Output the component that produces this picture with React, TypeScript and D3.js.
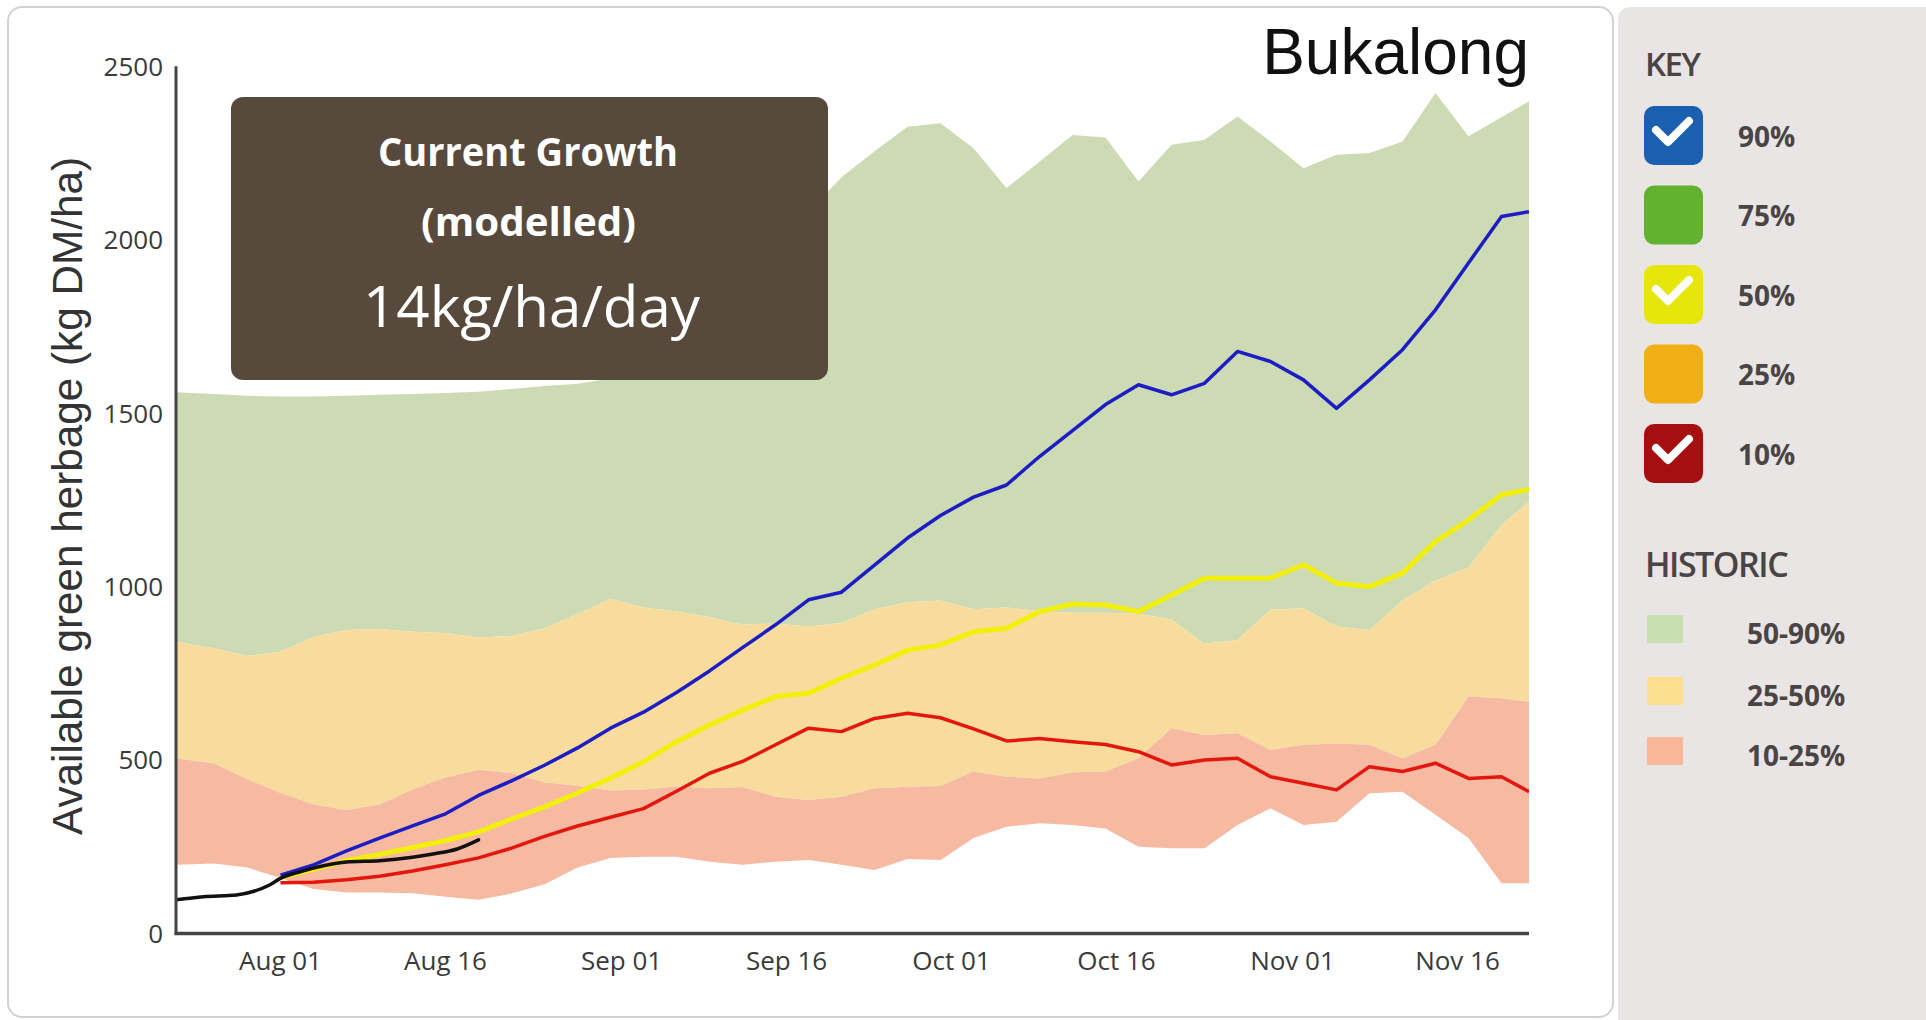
import React from "react";
import * as d3 from "d3";

// ---------- DATA ----------
const histDates = [
  "2019-07-22T12:00Z", "2019-07-26", "2019-07-29",
  "2019-08-01", "2019-08-04", "2019-08-07", "2019-08-10", "2019-08-13", "2019-08-16", "2019-08-19", "2019-08-22", "2019-08-25", "2019-08-28", "2019-08-31",
  "2019-09-03", "2019-09-06", "2019-09-09", "2019-09-12", "2019-09-15", "2019-09-18", "2019-09-21", "2019-09-24", "2019-09-27", "2019-09-30",
  "2019-10-03", "2019-10-06", "2019-10-09", "2019-10-12", "2019-10-15", "2019-10-18", "2019-10-21", "2019-10-24", "2019-10-27", "2019-10-30",
  "2019-11-02", "2019-11-05", "2019-11-08", "2019-11-11", "2019-11-14", "2019-11-17", "2019-11-20", "2019-11-22T12:00Z",
];

// historic percentiles
const hist90 = [1560, 1555, 1550, 1548, 1548, 1550, 1553, 1555, 1558, 1562, 1570, 1578, 1585, 1600, 1650, 1730, 1820, 1910, 1990, 2080, 2180, 2255, 2326, 2336, 2264, 2149, 2225, 2302, 2295, 2168, 2274, 2288, 2355, 2283, 2206, 2245, 2250, 2283, 2423, 2298, 2353, 2399];
const hist50 = [840, 822, 800, 812, 855, 875, 878, 870, 866, 853, 858, 880, 920, 965, 940, 928, 912, 890, 894, 885, 895, 935, 955, 960, 935, 940, 930, 925, 925, 922, 905, 835, 846, 933, 938, 885, 875, 960, 1018, 1055, 1178, 1245];
const hist25 = [505, 490, 445, 405, 372, 356, 372, 415, 450, 472, 462, 436, 426, 412, 415, 424, 419, 422, 394, 385, 394, 419, 423, 425, 467, 452, 447, 465, 467, 505, 592, 572, 577, 529, 544, 548, 544, 505, 544, 683, 678, 668];
const hist10 = [198, 202, 190, 160, 128, 118, 118, 116, 106, 97, 115, 142, 190, 218, 221, 221, 207, 198, 207, 212, 198, 183, 215, 212, 275, 308, 318, 313, 303, 250, 246, 246, 313, 361, 313, 322, 404, 409, 342, 275, 145, 145];

// projections (from Aug 01)
const projDates = histDates.slice(3);
const proj90 = [168, 198, 238, 275, 310, 345, 398, 440, 485, 535, 592, 638, 695, 757, 824, 890, 962, 984, 1062, 1140, 1205, 1258, 1293, 1375, 1450, 1525, 1582, 1553, 1586, 1678, 1649, 1596, 1514, 1596, 1683, 1798, 1933, 2067, 2081];
const proj50 = [162, 185, 210, 228, 248, 268, 293, 330, 365, 405, 448, 495, 553, 601, 644, 683, 693, 736, 774, 817, 832, 870, 880, 928, 950, 947, 928, 976, 1024, 1024, 1024, 1063, 1010, 1000, 1039, 1130, 1192, 1265, 1280];
const proj10 = [146, 148, 155, 165, 180, 198, 218, 246, 280, 310, 335, 360, 410, 462, 496, 544, 592, 582, 620, 635, 622, 590, 555, 562, 553, 545, 524, 486, 500, 505, 452, 433, 414, 481, 467, 491, 447, 452, 409];

// actual (modelled to date)
const actualDates = ["2019-07-22T12:00Z", "2019-07-25", "2019-07-28", "2019-07-29T12:00Z", "2019-07-31", "2019-08-01", "2019-08-03", "2019-08-05", "2019-08-07", "2019-08-10", "2019-08-13", "2019-08-15", "2019-08-17", "2019-08-19"];
const actualVals = [97, 106, 111, 121, 140, 159, 180, 196, 206, 210, 220, 230, 243, 270];

const xTickDates = ["2019-08-01", "2019-08-16", "2019-09-01", "2019-09-16", "2019-10-01", "2019-10-16", "2019-11-01", "2019-11-16"];
const yTicks = [0, 500, 1000, 1500, 2000, 2500];

const keyLabels = ["90%", "75%", "50%", "25%", "10%"];
const keyColors = ["#1b5fb0", "#62b22f", "#e6e60a", "#f0b015", "#a50f0f"];
const keyChecked = [true, false, true, false, true];

const histLabels = ["50-90%", "25-50%", "10-25%"];
const histSwatch = ["#c7dfb0", "#fde08e", "#f9b89a"];

const stationName = "Bukalong";
const growthValue = "14kg/ha/day";

// ---------- LAYOUT ----------
const W = 1926, H = 1020;
const X0 = 176, X1 = 1529, Y0 = 933.5, Y1 = 66.3;

const x = d3.scaleUtc().domain([new Date("2019-07-22T12:00Z"), new Date("2019-11-22T12:00Z")]).range([X0, X1]);
const y = d3.scaleLinear().domain([0, 2500]).range([Y0, Y1]);
const fmt = d3.utcFormat("%b %d");

function App() {
  const hd = histDates.map((d) => new Date(d.length === 10 ? d + "T00:00Z" : d));
  const pd = projDates.map((d) => new Date(d.length === 10 ? d + "T00:00Z" : d));
  const ad = actualDates.map((d) => new Date(d.length === 10 ? d + "T00:00Z" : d));

  const band = (lo: number[], hi: number[]) =>
    d3.area<number>()
      .x((i) => x(hd[i]))
      .y0((i) => y(lo[i]))
      .y1((i) => y(hi[i]))(d3.range(hd.length)) || "";
  const projLine = (vals: number[]) =>
    d3.line<number>().x((i) => x(pd[i])).y((i) => y(vals[i]))(d3.range(pd.length)) || "";
  const actualLine =
    d3.line<number>().x((i) => x(ad[i])).y((i) => y(actualVals[i])).curve(d3.curveMonotoneX)(d3.range(ad.length)) || "";

  const tickFont = "'Open Sans', 'Noto Sans', sans-serif";

  return (
    <svg width={W} height={H} style={{ position: "absolute", left: 0, top: 0, display: "block" }}>
      <rect x={0} y={0} width={W} height={H} fill="#ffffff" />
      {/* chart panel */}
      <rect x={8} y={7} width={1605} height={1010} rx={14} fill="#ffffff" stroke="#d2d2d2" strokeWidth={2} />
      {/* legend panel */}
      <path d={`M1618,${H} L1618,21 Q1618,7 1632,7 L${W},7 L${W},${H} Z`} fill="#e8e5e4" />

      <defs>
        <clipPath id="plot">
          <rect x={X0} y={0} width={X1 - X0} height={Y0} />
        </clipPath>
      </defs>

      <g clipPath="url(#plot)">
        <path d={band(hist50, hist90)} fill="#cddbb4" />
        <path d={band(hist25, hist50)} fill="#f8dc9e" />
        <path d={band(hist10, hist25)} fill="#f6b9a1" />
        <path d={projLine(proj10)} fill="none" stroke="#e3170d" strokeWidth={3.5} strokeLinejoin="round" />
        <path d={projLine(proj50)} fill="none" stroke="#f3ef0c" strokeWidth={5} strokeLinejoin="round" />
        <path d={projLine(proj90)} fill="none" stroke="#1d1dc4" strokeWidth={3.5} strokeLinejoin="round" />
        <path d={actualLine} fill="none" stroke="#111111" strokeWidth={3.5} strokeLinecap="round" />
      </g>

      {/* axes */}
      <line x1={X0} x2={X0} y1={Y1} y2={Y0 + 1.5} stroke="#444" strokeWidth={3} />
      <line x1={X0 - 1.5} x2={X1} y1={Y0} y2={Y0} stroke="#444" strokeWidth={3.5} />
      {yTicks.map((t) => (
        <text key={t} x={163} y={y(t)} dy="0.36em" textAnchor="end" fontFamily={tickFont} fontSize={26} fill="#3a3a3a">
          {t}
        </text>
      ))}
      {xTickDates.map((s) => {
        const d = new Date(s + "T00:00Z");
        return (
          <text key={s} x={x(d)} y={970} textAnchor="middle" fontFamily={tickFont} fontSize={26} fill="#3a3a3a">
            {fmt(d)}
          </text>
        );
      })}

      {/* y axis title */}
      <text
        transform={`translate(82,496) rotate(-90)`}
        textAnchor="middle"
        fontFamily="'Liberation Sans', Arial, sans-serif"
        fontSize={43}
        fill="#333"
        textLength={678}
        lengthAdjust="spacingAndGlyphs"
      >
        Available green herbage (kg DM/ha)
      </text>

      {/* station name */}
      <text x={1529} y={74} textAnchor="end" fontFamily="'Liberation Sans', Arial, sans-serif" fontSize={64} fill="#111">
        {stationName}
      </text>

      {/* current growth box */}
      <rect x={231} y={97} width={597} height={283} rx={12} fill="#574a3c" />
      <text x={528} y={166} textAnchor="middle" fontFamily={tickFont} fontWeight={700} fontSize={40} fill="#fff" textLength={300} lengthAdjust="spacingAndGlyphs">
        Current Growth
      </text>
      <text x={528.5} y={236} textAnchor="middle" fontFamily={tickFont} fontWeight={700} fontSize={40} fill="#fff" textLength={215} lengthAdjust="spacingAndGlyphs">
        (modelled)
      </text>
      <text x={531.5} y={327} textAnchor="middle" fontFamily={tickFont} fontSize={56} fill="#fff" textLength={337} lengthAdjust="spacingAndGlyphs">
        {growthValue}
      </text>

      {/* legend */}
      <text x={1645} y={76} fontFamily={tickFont} fontWeight={600} fontSize={33} fill="#4a4444" letterSpacing={-1.5}>
        KEY
      </text>
      {keyLabels.map((lab, i) => {
        const cy = 135.5 + 79.5 * i;
        const bx = 1644, by = cy - 29.5;
        return (
          <g key={lab}>
            <rect x={bx} y={by} width={59} height={59} rx={10} fill={keyColors[i]} />
            {keyChecked[i] && (
              <path
                d={`M${bx + 12},${by + 24} L${bx + 24},${by + 36} L${bx + 45},${by + 15}`}
                fill="none"
                stroke="#ffffff"
                strokeWidth={8}
                strokeLinecap="round"
                strokeLinejoin="round"
              />
            )}
            <text x={1738} y={cy + 11} fontFamily={tickFont} fontWeight={700} fontSize={28} fill="#4a4444">
              {lab}
            </text>
          </g>
        );
      })}
      <text x={1645} y={577} fontFamily={tickFont} fontWeight={600} fontSize={34} fill="#4a4444" letterSpacing={-1.5}>
        HISTORIC
      </text>
      {histLabels.map((lab, i) => {
        const top = [615, 677, 737][i];
        return (
          <g key={lab}>
            <rect x={1647} y={top} width={36} height={28} fill={histSwatch[i]} />
            <text x={1747} y={top + 29} fontFamily={tickFont} fontWeight={700} fontSize={28} fill="#4a4444">
              {lab}
            </text>
          </g>
        );
      })}
    </svg>
  );
}

export default App;
